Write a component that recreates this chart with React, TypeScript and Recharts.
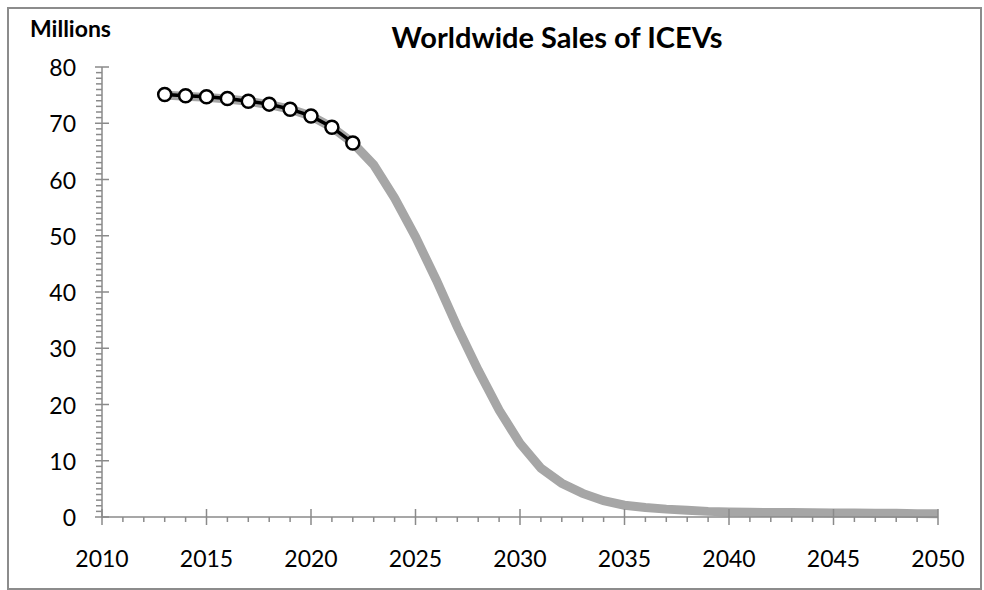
import { LineChart, Line, XAxis, YAxis } from "recharts";

const years = [
  2013, 2014, 2015, 2016, 2017, 2018, 2019, 2020, 2021, 2022, 2023, 2024, 2025,
  2026, 2027, 2028, 2029, 2030, 2031, 2032, 2033, 2034, 2035, 2036, 2037, 2038,
  2039, 2040, 2041, 2042, 2043, 2044, 2045, 2046, 2047, 2048, 2049, 2050,
];

// projected sales (grey band)
const projected = [
  75.0, 74.8, 74.6, 74.3, 73.9, 73.3, 72.5, 71.3, 69.3, 66.5, 62.6, 56.7, 49.8,
  42.1, 33.8, 26.1, 19.0, 13.1, 8.7, 6.0, 4.2, 2.9, 2.1, 1.7, 1.4, 1.2, 1.0,
  0.9, 0.85, 0.8, 0.8, 0.75, 0.7, 0.7, 0.65, 0.65, 0.6, 0.6,
];

// actual sales 2013-2022
const actual = [75.1, 74.9, 74.7, 74.4, 73.9, 73.4, 72.5, 71.3, 69.3, 66.5];

const xTicks = Array.from({ length: 41 }, (_, i) => 2010 + i);
const yTicks = Array.from({ length: 81 }, (_, i) => i);

const data = years.map((year, i) => ({
  year,
  projected: projected[i],
  actual: i < actual.length ? actual[i] : undefined,
}));

const AXIS = "#8a8a8a";
const FONT = "Lato, sans-serif";

const XTick = ({ x, y, payload }: any) => {
  const v = payload.value;
  if (v % 5 !== 0) {
    return <line x1={x} x2={x} y1={y} y2={y + 5} stroke={AXIS} strokeWidth={1.5} />;
  }
  return (
    <g>
      <line x1={x} x2={x} y1={y - 8} y2={y + 8} stroke={AXIS} strokeWidth={1.5} />
      <text
        x={x}
        y={y + 41}
        textAnchor="middle"
        dominantBaseline="central"
        fontSize={23}
        fontFamily={FONT}
        fill="#000"
      >
        {v}
      </text>
    </g>
  );
};

const YTick = ({ x, y, payload }: any) => {
  const v = payload.value;
  if (v % 10 !== 0) {
    return <line x1={x - 6} x2={x} y1={y} y2={y} stroke={AXIS} strokeWidth={1.5} />;
  }
  return (
    <g>
      <line x1={x - 7} x2={x + 7} y1={y} y2={y} stroke={AXIS} strokeWidth={1.5} />
      <text
        x={x - 26}
        y={y}
        textAnchor="end"
        dominantBaseline="central"
        fontSize={23}
        fontFamily={FONT}
        fill="#000"
      >
        {v}
      </text>
    </g>
  );
};

export default function App() {
  return (
    <div>
      <div
        style={{
          position: "absolute",
          left: 7,
          top: 7,
          width: 975,
          height: 583,
          boxSizing: "border-box",
          border: "2px solid #8c8c8c",
          background: "#fff",
        }}
      />
      <div style={{ position: "absolute", left: 0, top: 0 }}>
        <LineChart
          width={984}
          height={590}
          data={data}
          margin={{ top: 67, right: 46, bottom: 0, left: 0 }}
        >
          <XAxis
            dataKey="year"
            type="number"
            domain={[2010, 2050]}
            ticks={xTicks}
            interval={0}
            height={73}
            tickLine={false}
            tickSize={0}
            tickMargin={0}
            axisLine={{ stroke: AXIS, strokeWidth: 1.5 }}
            tick={<XTick />}
          />
          <YAxis
            type="number"
            domain={[0, 80]}
            ticks={yTicks}
            interval={0}
            width={102}
            tickLine={false}
            tickSize={0}
            tickMargin={0}
            axisLine={{ stroke: AXIS, strokeWidth: 1.5 }}
            tick={<YTick />}
          />
          <Line
            dataKey="projected"
            type="linear"
            stroke="#a6a6a6"
            strokeWidth={9}
            dot={false}
            isAnimationActive={false}
          />
          <Line
            dataKey="actual"
            type="linear"
            stroke="#000"
            strokeWidth={3.5}
            dot={{ r: 6.5, fill: "#fff", stroke: "#000", strokeWidth: 2.5 }}
            isAnimationActive={false}
          />
        </LineChart>
      </div>
      <svg
        width={984}
        height={590}
        style={{ position: "absolute", left: 0, top: 0, pointerEvents: "none" }}
      >
        <text x={557} y={48} textAnchor="middle" fontSize={29} fontWeight="bold" fontFamily={FONT}>
          Worldwide Sales of ICEVs
        </text>
        <text x={30} y={37} fontSize={23} fontWeight="bold" fontFamily={FONT}>
          Millions
        </text>
      </svg>
    </div>
  );
}
